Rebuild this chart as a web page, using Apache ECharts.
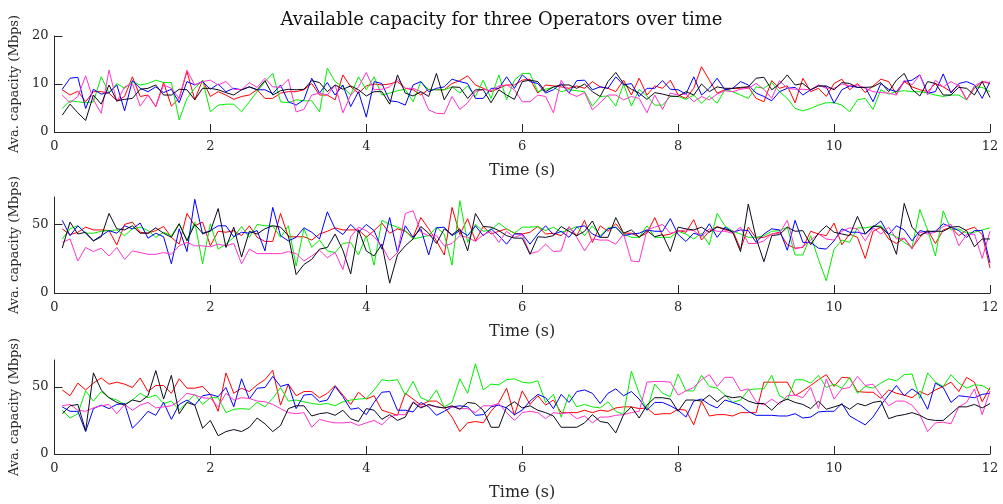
<!DOCTYPE html>
<html>
<head>
<meta charset="utf-8">
<script src="https://cdn.jsdelivr.net/npm/echarts@6/dist/echarts.min.js"></script>
<style>
  html, body { margin: 0; padding: 0; background: #fff; }
  #main { width: 1003px; height: 504px; }
</style>
</head>
<body>
<div id="main"></div>
<script>
// samples every 0.1 s, from 0.1 s to 12 s
var xTicks = [0, 2, 4, 6, 8, 10, 12];
var yTicksA = [0, 10, 20];
var yTicksBC = [0, 50];

// ---- operator 1 (top)
var opA_red = [8.8,7.7,8.5,6.3,8.4,8.4,8.1,6.5,7.4,11.5,7.4,7.7,5.3,10.3,5.4,7,12.6,6.7,10.8,7.4,8.4,7.7,6.8,7.4,7.7,8.8,7,7,8.1,8.4,
  8.4,8.8,10.1,7.7,7.7,6.7,11.9,9.4,8.1,9.6,10,9.8,10,10.5,9.1,8.8,7.7,8.9,8.8,8.8,10.1,10.7,11.7,9.8,9.1,8.4,9.1,9.8,9.8,10.8,
  11,8.1,9.8,9.6,9.4,9.1,9.6,9.1,10.5,9.4,9.1,8.4,10.8,7.7,11.2,7.7,9.6,9.1,10.8,7.7,7,9.1,13.6,10.8,8.1,8.8,9.1,9.1,9.4,7,
  6.3,10.7,9.1,9.6,6.1,11.2,8.4,9.1,7.4,10.1,11,8.8,10.1,8.2,9.6,11,10.5,7.9,10.5,9.4,8.8,8.4,10.1,9.4,8.4,9.8,6.7,9.1,10.5,10.1];
var opA_green = [4.9,6.5,6.3,6.1,6.3,11.5,8.1,10.1,9.1,10.5,9.8,10.1,10.8,10.3,10.3,2.5,7,9.1,10.8,4.2,5.6,5.8,5.8,4.2,6.3,8.4,10.5,12.2,6.3,6.1,
  6.7,6.5,6.5,4.2,13.3,10.5,9.4,7.7,11.5,8.8,11.5,7.7,8.1,8.6,8.9,6.3,10.5,8.8,8.8,8.8,9.4,8.1,9.6,7.4,10.8,7,11.9,6.7,10.8,12.2,
  12.2,8.4,8.9,9.3,8.4,8.8,8.6,8.4,5.4,7.4,7.5,5.4,10,5.4,8.9,7.5,5.6,5.6,7.4,7.4,6.8,7.7,6,7.5,6,8.8,8.4,7.7,7,9.4,
  9.1,10.3,8.4,7,4.9,4.4,4.9,5.6,6.1,6.1,5.6,4.2,6.7,7,4.7,8.8,7.9,8.4,8.6,8.4,8.4,8.1,7.7,7.4,7.7,7.7,6.7,9.4,9.3,8.4];
var opA_blue = [8.9,11.2,11.4,4.9,8.9,7.9,8.2,9.8,4.4,10.7,9.1,8.4,9.4,8.2,8.9,6.1,10.5,9.8,10.5,8.9,10,8.4,9.1,8.8,9.4,8.8,8.8,8,9.8,6.3,
  5.6,6.7,11.2,8.1,10.3,7.7,9.8,5.3,8.4,3.1,10.5,10.1,6.5,6.3,5.6,9.8,10.5,8.4,9.1,9.4,11,10.5,10.1,7,7,9.1,9.1,11.5,9.1,11.9,
  10.5,10.1,8.1,8.8,10.1,8.1,10.7,10.8,8.8,9.4,9.1,11.5,9.8,10.1,7.4,9.1,9.1,10.7,8.9,8.8,7.9,11.5,7.7,9.1,11.2,8.8,9.1,10.5,9.8,8.1,
  7.4,6.5,8.4,9.1,9.3,7.7,8.8,9.6,9.4,6,8.8,9.6,9.3,9.3,6.3,10.1,8.9,8.4,10.5,10.8,11.9,8.1,8.4,12.1,8.1,10.1,10.5,9.8,7,10.5];
var opA_magenta = [7.7,6.1,7.4,11.7,6.7,3.9,12.9,6.3,9.4,10.1,5.4,7.7,5.3,9.8,9.1,7,12.9,9.8,10.5,10.8,9.8,10.5,8.9,8.8,10.3,9.3,11.2,9.4,9.3,11,
  4.2,4.7,7.7,8.1,7.7,9.8,4,7.7,9.4,12.4,8.8,8.9,9.4,11,9.1,9.1,8.4,4.6,3.9,3.8,7.4,4.7,6.1,8.4,8.9,8.6,9.6,9.8,8.8,6.3,
  6.3,7.7,7.4,4,10.8,8.1,7.4,8.2,4.6,6.1,7.7,7.7,6.7,7.4,7,4,7.7,4.7,8.1,7.7,7.9,6.3,7.4,6.7,7.9,8.6,8.4,8.9,9.1,10.1,
  8.9,7,10.7,9.1,8.9,8.9,8.8,9.8,9.1,9.1,10,9.6,9.8,9.1,8.4,8.2,8.1,7.7,10.8,9.8,11.9,7.7,10.8,9.4,10.5,9.6,6.7,9.6,10.5,10.3];
var opA_black = [3.5,5.8,4,2.4,7.7,5.8,9.8,6.5,6.8,7,8.9,9.1,9.8,7.7,7.7,8.9,8.8,6.7,9.1,9.1,8.8,8.2,7.7,8.8,9.4,8.8,10.7,7.7,8.6,8.9,
  8.8,8.9,10.7,10.3,8.4,9.8,8.9,9.6,8.8,7.5,8.4,8.4,5.8,11.9,8.1,7.5,8.4,7.4,12.2,6.7,9.4,9.3,7,8.8,8.8,6.1,8.8,7.7,6.8,10.5,
  10.8,10.5,8.4,9.4,9.8,9.8,9.1,10,8.4,7.4,10.5,12.4,10.1,8.9,8.1,6.8,8.2,7.9,7.5,7.4,8.4,7.7,10,8.4,9.4,9.1,9.1,9.3,9.4,11.2,
  11.4,8.8,10,11.9,9.8,10.1,8.8,9.6,9.6,8.8,10.3,10.1,9.3,9.3,9.4,10.3,8.4,10.8,12.2,8.9,7.5,10.5,10.1,7.7,7.7,9.3,9.1,7.7,10.5,7.2];

// ---- operator 2 (middle)
var opB_red = [46.8,42.5,44.3,48,46,46,45.5,35,50,51.7,44.3,43.6,45.5,48.5,40.6,35.6,58,49,51.7,34.4,45,44.3,45.5,41.8,49,40.6,37.6,37.6,58,41,
  41,41,38.6,43,45,47.5,46,46,46,40.6,45.5,51,43.6,46.8,45,40.6,55,46.8,38,27.7,62.4,42.6,54.2,38,48.5,43,45,46.8,43.6,43,
  44.3,48.5,43,43.6,41.8,48,41.8,53,36.9,49,45,50.5,43.6,43.6,41,43.6,55,41.8,43,45.5,44.3,53.5,38.6,45,48.5,46,45.5,32,48,40,
  40.6,43,44.3,35.2,32.7,33.2,45,43,41.8,51,35.2,43,40.6,25.2,45,48,39.4,36.1,40,32.7,40.6,46,36.1,46,48,41.8,46,48,42.6,18.3];
var opB_green = [39.4,46.8,49,43.6,43.6,45,45.5,46,41.8,46.8,48,45.5,40.6,44.3,41.8,50.5,38.6,51.7,21.3,50.5,32,35.6,40.6,48.5,40.6,50,49,49,40.6,49,
  19.6,46.8,33.2,38.6,30.7,29.5,36.1,36.9,27.7,41.8,20.3,53,50,48,45.5,39.4,40.6,41.8,48,43,20.3,67.3,36.9,50,45,46,51,46.8,43.6,48,
  48,48.5,45.5,48,44.3,46,48.5,41.8,49,41.8,47.5,48,43,40.6,40.6,49,40.6,40.6,40.6,45,43,39.4,43.6,35.2,58,49,45,43,40.6,40.6,
  41.8,45,45.5,48,27.7,27.7,41.8,24.5,8.9,32,38.6,36.9,47.5,47.5,48.5,49,43.6,41,36.9,33.2,60.9,46,27,59.9,46,46.8,43.6,44.3,46,47.5];
var opB_blue = [53,41.8,49,43.6,38,41.8,45.5,43.6,49,46.8,51,40,43.6,41,21.3,46.8,30.2,68.3,43,45.5,49,49,41,44.3,43.6,45.5,30.7,62.4,41.8,38,
  40.6,47.5,44.3,39.4,59.2,46.8,42.6,50,44.3,50,45.5,32,55,29.5,49,40.6,46.8,27.7,47.5,48,41.8,45.5,41.8,49,41.8,46.8,41.8,35.6,43,43,
  35.6,43,49,42.6,45,40.6,48,49,43,40.6,46.8,48,41.8,43,43.6,46,45,45,54.2,42.6,37.6,43.6,41.8,50.5,40.6,48,44.3,46,45.5,36.9,
  43,46.8,46,31.2,53,36.9,36.9,32.7,32,38,46.8,44.3,44.3,43,48,52.5,42.6,49,46,38,45.5,44.3,45,50.5,48,45.5,40.6,45.5,45.5,22];
var opB_magenta = [36.9,39.4,23.3,33.2,30.2,32.7,27,33.2,24.5,30.7,29.5,28.2,28.2,29.5,28.2,34.4,36.9,34.4,34.4,33.7,35.6,34.4,36.1,21.3,32,28.7,28.7,28.7,28.7,30.2,
  28.7,23.3,27,31.2,25.7,29.5,17,41,48,45.5,41,34.4,23.8,29.5,58,60,44.3,41.8,41.8,34.4,36.1,41.8,40.6,37.6,42.5,45,36.9,45,40.6,42.5,
  28.7,30.2,35.6,30.2,30.7,48.5,40.6,30.7,39.4,38.6,38.6,35.6,43,23.3,22.8,46,48,50,43.6,45,46,45.5,41,46.8,45,45,43.6,48,36.1,36.1,
  38,43,43.6,53,32,33.7,38.6,43,39.4,38.6,45,47.5,46.8,38,47.5,43,48,39.4,40,32,44.3,43,44.3,48.5,50,34.4,42.6,43,25.2,45];
var opB_black = [32.7,51.7,43,44.3,38,41,58,46.8,46,49,43.6,43.6,47.5,43.6,40.6,50.5,38,50,43.6,45,61.6,33.2,48,26.2,45,43,46.8,49,48,41.8,
  13.4,20.8,24.5,32,33.2,43,31.2,13.9,46,30.7,27,35.6,7.2,27.7,34.4,39.4,48.5,43.6,36.1,46.8,42.5,46.8,30.7,58,48.5,48,45.5,41.8,40,40,
  28.2,41,40.6,41.8,48.5,45,41.8,45,52.5,40.6,40.6,55,43.6,46,40.6,45.5,41,42.6,30.2,48,46.8,46,48,44.3,48,46.8,44.3,30.2,64.9,40,
  22.8,41.8,42.6,48,45,45.5,35.2,43.6,49,44.3,43,41.8,55.9,43,49,48,42.6,28.2,65.3,48,41.8,45,45,45,48,48.5,45.5,33.7,39.4,39.4];

// ---- operator 3 (bottom)
var opC_red = [47.7,43.4,52.8,47.7,52.8,56.6,52,53.5,52,49.5,56.6,46.5,51,51,45.2,56,49,49,50.3,44.4,31.8,60.4,45.2,49,46.5,51.5,55.3,62.4,36.4,52,
  43.4,46.5,46.5,41.9,45.2,51,43.9,36.9,46,40.9,43.4,32.6,30.8,28.8,45.2,40.9,36.4,39.4,39.4,35.1,27.5,16.7,23.2,24.2,23.2,31.8,38.4,49,28.8,47,
  36.9,43.4,36.4,40.2,30.8,30.8,30.8,32.6,30.8,32.6,31.8,34.3,35.1,35.1,33.8,34.3,29.3,30,30,33.3,32.6,21.7,39.4,28.3,29.3,29.3,28.3,30.8,30.8,30.8,
  53.5,53.5,53.5,53.5,43.4,47,51,55.3,59.1,50.3,57.1,56.6,46.5,46,46,41.4,47.7,45.2,43.9,41.9,46.5,43.9,47.7,50.3,53.5,46.5,57.1,53.5,38.9,49.5];
var opC_green = [32.6,26.8,30,47,39.4,46.5,41.9,40.2,36.9,40.2,45.2,41.9,43.9,37.6,39.4,32.6,38.4,44.4,36.9,41.9,41.9,30.8,33.3,33.8,33.3,38.4,35.1,41.4,49.5,39.4,
  40.2,38.9,37.6,36.9,37.6,35.9,38.9,40.2,40.9,41.4,47.7,55.3,54.5,55.3,43.9,54,41.9,39.4,47.7,35.1,38.4,56,45.2,67.2,47.7,52,51.5,55.3,56,53.5,
  52.8,54.5,38.4,44.4,27.5,44.4,35.1,36.9,35.1,34.3,38.9,31.8,29.3,61.6,45.2,32.6,52,45.2,42.7,59.6,47,47,58.6,50.3,49,43.9,38.4,40.2,47.7,48.5,
  48.5,58.6,43.4,40.2,55.3,55.3,52.8,58.6,49.5,52,49,57.1,45.2,50.3,49,52.8,56,54.5,59.1,59.6,41.4,60.4,53.5,50.3,59.1,52.8,49,51.5,51,47.7];
var opC_blue = [35.1,31.8,31.8,16.7,33.8,36.4,33.8,36.9,37.6,19.2,25,31.8,28.8,38.4,25.8,36.9,40.2,36.4,43.4,44.4,42.7,49.5,35.1,56,40.9,49,49.5,57.8,50.3,52,
  33.8,43.9,44.4,38.9,40.2,50.3,42.7,33.3,34.3,29.3,38.4,46,46.5,32.6,32.6,31.3,38.4,35.1,28.8,31.8,35.1,35.9,35.1,28.8,29.3,35.1,36.4,34.3,29.3,32.6,
  39.4,44.4,41.9,33.8,44.4,38.4,46.5,47.7,45.2,37.6,45.2,48.5,43.4,46.5,40.9,32.6,38.4,38.4,35.9,32.6,27.5,39.4,40.9,36.9,34.3,40.2,38.4,36.4,31.8,28.8,
  28.8,28.8,28.3,28.3,30,26.8,27.5,31.3,31.8,31.8,37.6,28.3,25,21.7,27.5,36.4,43.9,51,43.4,48.5,44.4,33.3,52.8,49.5,38.4,43.4,42.7,41.9,44.4,45.2];
var opC_magenta = [35.9,36.9,32.6,31.8,34.3,35.9,36.9,30,36.9,32.6,36.4,38.4,34.3,35.1,35.9,39.4,45.2,43.9,41.9,41.4,35.1,45.2,40.2,41.9,41.4,39.4,38.9,36.9,33.8,30.8,
  30,30.8,19.9,25.8,24.2,23.2,23.2,23.7,21.2,23.2,25,21.7,27.5,29.3,29.3,38.9,35.1,36.4,35.1,34.3,35.1,33.8,33.8,30.8,35.9,35.9,37.6,30.8,25,30.8,
  31.8,30.8,26.3,30.8,30,30.8,26.3,28.3,23.2,27.5,27.5,28.8,29.3,30.8,31.8,53.5,54,54,53.5,43.9,47,49.5,55.3,59.1,50.3,57.1,57.1,47,48.5,38.9,
  36.4,40.9,36.9,43.4,43.9,41.9,49.5,33.8,56,40.9,48.5,49.5,57.8,51,52,43.9,35.9,39.4,39.4,36.4,29.3,16.7,23.2,23.7,22.5,35.1,38.4,48.5,29.3,47];
var opC_black = [30,35.9,36.9,17.4,60.4,47.7,41.9,38.4,36.4,40.2,38.9,43.4,62.1,40.9,58.6,30,38.4,36.4,19.2,25,13.6,16.7,18.2,16.7,19.9,26.8,22.5,16.7,21.2,33.8,
  35.9,35.9,28.3,30,30.8,28.8,32.6,26.3,24.2,33.8,32.6,25.8,29.3,25,27.5,38.4,34.3,36.9,35.1,34.3,35.9,33.3,38.4,37.6,32.6,19.9,19.9,35.1,38.9,34.3,
  35.9,32.6,30.8,28.3,19.9,19.9,19.9,23.2,29.3,24.2,23.2,15.7,29.3,35.1,26.8,36.4,41.9,41.9,40.9,31.8,40.2,40.2,39.4,43.9,38.9,43.4,41.9,42.7,39.4,37.6,
  37.6,32.6,38.4,40.9,38.4,36.9,33.8,39.4,33.3,35.1,36.9,33.3,37.6,35.9,38.4,39.4,26.3,28.3,29.3,30.8,28.8,25.8,25,25,30,35.1,35.1,36.9,34.3,37.6];

var FONT = 'DejaVu Serif';
var INK = '#262626';
var colors = { red: '#ff0000', green: '#00ee00', blue: '#0000ff', magenta: '#ff33cc', black: '#0a0a1a' };

var myChart = echarts.init(document.getElementById('main'));

function pairs(arr) {
  return arr.map(function (v, i) { return [(i + 1) / 10, v]; });
}

function mkX(idx) {
  return {
    type: 'value', gridIndex: idx, min: 0, max: 12, interval: 2,
    name: 'Time (s)', nameLocation: 'middle', nameGap: 31,
    nameTextStyle: { fontFamily: FONT, fontSize: 16, color: INK },
    axisLine: { show: true, lineStyle: { color: INK, width: 1 } },
    axisTick: { show: true, inside: true, length: 8, customValues: xTicks, lineStyle: { color: INK } },
    axisLabel: { fontFamily: FONT, fontSize: 13, color: INK, margin: 8, customValues: xTicks },
    splitLine: { show: false }
  };
}
function mkY(idx, max, interval, ticks) {
  return {
    type: 'value', gridIndex: idx, min: 0, max: max, interval: interval,
    name: 'Ava. capacity (Mbps)', nameLocation: 'middle', nameGap: 25,
    nameTextStyle: { fontFamily: FONT, fontSize: 13, color: INK },
    axisLine: { show: true, lineStyle: { color: INK, width: 1 } },
    axisTick: { show: true, inside: true, length: 8, customValues: ticks, lineStyle: { color: INK } },
    axisLabel: { fontFamily: FONT, fontSize: 13, color: INK, margin: 6, customValues: ticks },
    splitLine: { show: false }
  };
}

var groups = [
  [opA_red, opA_green, opA_blue, opA_magenta, opA_black],
  [opB_red, opB_green, opB_blue, opB_magenta, opB_black],
  [opC_red, opC_green, opC_blue, opC_magenta, opC_black]
];
var order = ['red', 'green', 'blue', 'magenta', 'black'];

var series = [];
groups.forEach(function (g, gi) {
  g.forEach(function (arr, si) {
    series.push({
      type: 'line', xAxisIndex: gi, yAxisIndex: gi,
      data: pairs(arr), symbol: 'none', silent: true,
      lineStyle: { color: colors[order[si]], width: 1 }
    });
  });
});

var option = {
  animation: false,
  backgroundColor: '#fff',
  title: {
    text: 'Available capacity for three Operators over time',
    left: 'center', top: 6,
    textStyle: { fontFamily: FONT, fontSize: 18, fontWeight: 'normal', color: '#111' }
  },
  grid: [
    { left: 50, right: 13, top: 36, height: 96 },
    { left: 50, right: 13, top: 197, height: 96 },
    { left: 50, right: 13, top: 360, height: 94 }
  ],
  xAxis: [mkX(0), mkX(1), mkX(2)],
  yAxis: [mkY(0, 20, 10, yTicksA), mkY(1, 70, 50, yTicksBC), mkY(2, 70, 50, yTicksBC)],
  series: series
};
myChart.setOption(option);
</script>
</body>
</html>
